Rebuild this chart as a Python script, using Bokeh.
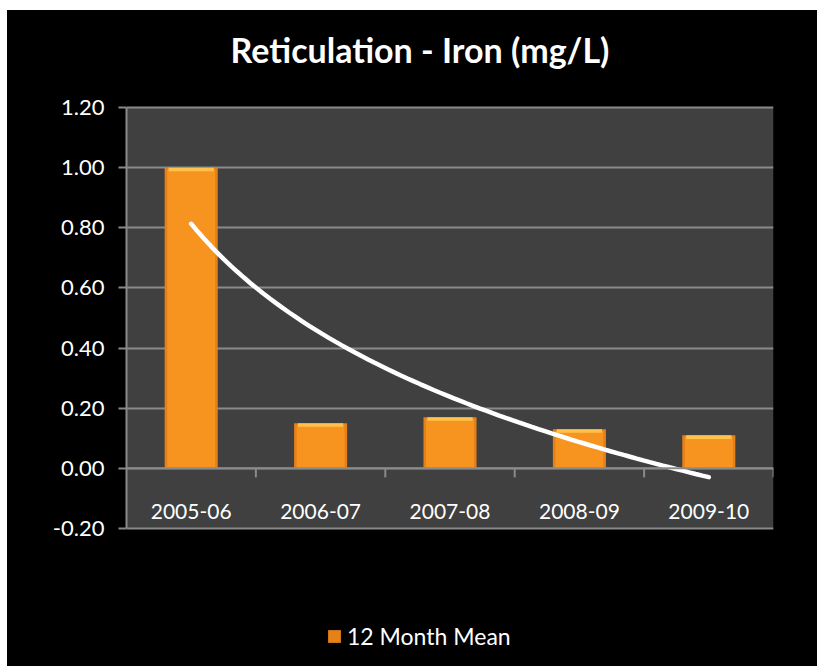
import numpy as np
from bokeh.plotting import figure
from bokeh.models import (Range1d, FixedTicker, Legend, LegendItem, NumeralTickFormatter,
                          Span, BoxAnnotation)
from bokeh.core.properties import value
from bokeh.embed import file_html
from bokeh.resources import INLINE

# ---- data ----
categories = ["2005-06", "2006-07", "2007-08", "2008-09", "2009-10"]
mean_values = [1.00, 0.15, 0.17, 0.13, 0.11]
y_ticks = [-0.20, 0.00, 0.20, 0.40, 0.60, 0.80, 1.00, 1.20]
series_name = "12 Month Mean"
title_text = "Reticulation - Iron (mg/L)"

x = np.arange(1, len(categories) + 1)
vals = np.array(mean_values)
boundaries = x + 0.5
y_min, y_max = y_ticks[0], y_ticks[-1]

# logarithmic trendline fitted to the bar values (as in the original chart)
slope, intercept = np.polyfit(np.log(x), vals, 1)
trend_x = np.linspace(x[0], x[-1], 80)
trend_y = slope * np.log(trend_x) + intercept

FONT = "Lato"
GRID = "#8A8A8A"

# layout geometry (pixels)
FIG_W, FIG_H = 810, 656
TOP_PX, LEFT, RIGHT = 97, 119, 44
PLOT_PX = 421          # height of grey plot area (y_min..y_max)
units_per_px = (y_max - y_min) / PLOT_PX
y_end = y_max + TOP_PX * units_per_px                    # room above for title
y_start = y_max - (FIG_H - TOP_PX) * units_per_px        # room below for legend

p = figure(width=FIG_W, height=FIG_H, output_backend="svg", toolbar_location=None,
           title=None,
           x_range=Range1d(0.5, len(categories) + 0.5), y_range=Range1d(y_start, y_end),
           background_fill_color="black", border_fill_color="black",
           outline_line_color=None,
           min_border_left=LEFT, min_border_right=RIGHT, min_border_top=0, min_border_bottom=0)
p.margin = (10, 0, 0, 7)
p.styles = {"background-color": "black"}

# grey plot area
p.add_layout(BoxAnnotation(bottom=y_min, top=y_max, fill_color="#404040", fill_alpha=1,
                           line_color=None, level="image"))

# grid
p.xgrid.visible = False
p.ygrid.ticker = FixedTicker(ticks=y_ticks)
p.ygrid.grid_line_color = GRID
p.ygrid.grid_line_width = 2

# bars with simple bevel shading
bars = p.vbar(x=x, top=vals, bottom=0, width=0.41, fill_color="#E68019", line_color=None)
p.vbar(x=x, top=vals - 0.006, bottom=0, width=0.37, fill_color="#F7941F", line_color=None)
p.vbar(x=x, top=vals, bottom=vals - 0.012, width=0.35, fill_color="#FFC24C", line_color=None)

# category axis drawn at zero
p.add_layout(Span(location=0, dimension="width", line_color=GRID, line_width=2))
p.ray(x=boundaries, y=0, length=9, length_units="screen", angle=-np.pi / 2,
      line_color=GRID, line_width=2)
p.text(x=x, y=0, text=categories, y_offset=43, text_align="center", text_baseline="middle",
       text_color="white", text_font=value(FONT), text_font_size="21px")

# trendline
p.line(trend_x, trend_y, line_color="white", line_width=4.5, line_cap="round")

# chart title
x_mid = (x[0] + x[-1]) / 2
p.text(x=[x_mid], y=[y_max], text=[title_text], x_offset=-30, y_offset=-58,
       text_align="center", text_baseline="middle", text_color="white",
       text_font=value(FONT), text_font_style="bold", text_font_size="34px")

# y axis
p.yaxis.bounds = (y_min, y_max)
p.yaxis.ticker = FixedTicker(ticks=y_ticks)
p.yaxis.formatter = NumeralTickFormatter(format="0.00")
p.yaxis.axis_line_color = GRID
p.yaxis.axis_line_width = 2
p.yaxis.major_tick_line_color = GRID
p.yaxis.major_tick_line_width = 2
p.yaxis.major_tick_out = 8
p.yaxis.major_tick_in = 0
p.yaxis.minor_tick_line_color = None
p.yaxis.major_label_text_color = "white"
p.yaxis.major_label_text_font = FONT
p.yaxis.major_label_text_font_size = "22px"
p.yaxis.major_label_standoff = 14

p.xaxis.visible = False

legend = Legend(items=[LegendItem(label=series_name, renderers=[bars])],
                location=(200, 16), orientation="horizontal",
                background_fill_color="black", background_fill_alpha=1,
                border_line_color=None,
                label_text_color="white", label_text_font=FONT,
                label_text_font_size="23px",
                glyph_width=16, glyph_height=16, label_standoff=5)
p.add_layout(legend)

open("out.html", "w").write(file_html(p, INLINE))
